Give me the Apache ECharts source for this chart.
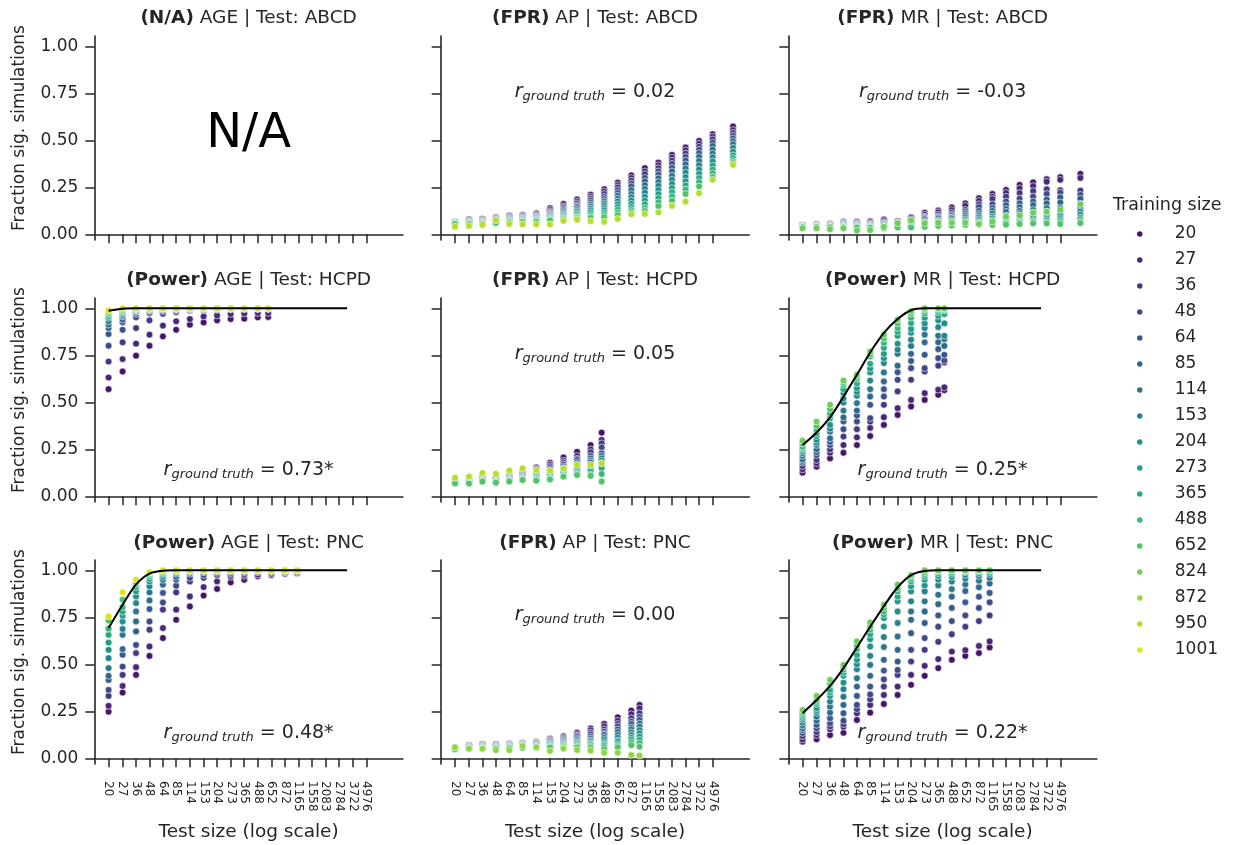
<!DOCTYPE html>
<html><head><meta charset="utf-8">
<script src="https://cdn.jsdelivr.net/npm/echarts@6/dist/echarts.min.js"></script>
<style>html,body{margin:0;padding:0;background:#fff}#c{width:1239px;height:845px}</style>
</head><body><div id="c"></div>
<script>
// ---------- data ----------
const testSizes = [20,27,36,48,64,85,114,153,204,273,365,488,652,872,1165,1558,2083,2784,3722,4976];
const trainSizes = [20,27,36,48,64,85,114,153,204,273,365,488,652,824,872,950,1001];
const yTicks = [0,0.25,0.5,0.75,1];

const xApAbcd = [20,27,36,48,64,85,114,153,204,273,365,488,652,872,1165,1558,2083,2784,3722,4976,7690];
const xMrAbcd = [20,27,36,48,64,85,114,153,204,273,365,488,652,872,1165,1558,2083,2784,3722,4976,7650];
const xAgeHcpd = [20,27,36,48,64,85,114,153,204,273,365,488,610];
const xApHcpd = [20,27,36,48,64,85,114,153,204,273,365,462];
const xMrHcpd = [20,27,36,48,64,85,114,153,204,273,365,416];
const xAgePnc = [20,27,36,48,64,85,114,153,204,273,365,488,652,872,1130];
const xApPnc = [20,27,36,48,64,85,114,153,204,273,365,488,652,872,1040];
const xMrPnc = [20,27,36,48,64,85,114,153,204,273,365,488,652,872,1097];
const powerX = [20,27,36,48,64,85,114,153,204,273,365,488,652,872,1165,1558,2083,2784,3300];

const trainApAbcd = [20,27,36,48,64,85,114,153,204,273,365,488,652,950];
const trainMrAbcd = [20,27,36,48,64,85,114,153,204,273,365,488,652,824];
const trainAgeHcpd = [20,27,36,48,64,85,114,153,204,273,365,488,652,1001];
const trainApHcpd = [20,27,36,48,64,85,114,153,204,273,365,488,652,950];
const trainMrHcpd = [20,27,36,48,64,85,114,153,204,273,365,488,652,824];
const trainAgePnc = [20,27,36,48,64,85,114,153,204,273,365,488,652,1001];
const trainApPnc = [20,27,36,48,64,85,114,153,204,273,365,488,652,872];
const trainMrPnc = [20,27,36,48,64,85,114,153,204,273,365,488,652,824];

const apAbcd = [
 [.067,.080,.082,.090,.099,.104,.112,.139,.162,.186,.211,.240,.275,.314,.352,.382,.423,.462,.497,.533,.574],
 [.065,.075,.078,.085,.095,.100,.105,.130,.150,.175,.200,.228,.262,.300,.335,.368,.408,.447,.482,.520,.555],
 [.064,.072,.075,.083,.090,.095,.100,.122,.143,.165,.190,.215,.250,.285,.320,.352,.392,.430,.466,.505,.540],
 [.063,.070,.072,.080,.087,.090,.095,.115,.135,.155,.180,.200,.235,.270,.300,.335,.375,.412,.450,.487,.525],
 [.062,.068,.070,.078,.085,.088,.092,.110,.128,.148,.168,.188,.220,.255,.282,.318,.355,.393,.432,.470,.510],
 [.061,.066,.068,.075,.082,.085,.088,.105,.120,.140,.158,.176,.205,.235,.262,.298,.335,.372,.412,.450,.495],
 [.060,.064,.066,.072,.079,.082,.085,.100,.113,.130,.148,.165,.190,.215,.242,.278,.312,.350,.390,.430,.480],
 [.060,.062,.064,.070,.076,.079,.082,.095,.106,.122,.138,.153,.175,.198,.222,.258,.290,.328,.368,.410,.460],
 [.059,.060,.062,.068,.073,.076,.079,.090,.100,.113,.128,.140,.160,.180,.200,.236,.268,.305,.345,.388,.440],
 [.058,.059,.060,.066,.070,.073,.076,.086,.094,.105,.117,.128,.145,.162,.180,.214,.246,.282,.322,.365,.420],
 [.057,.058,.059,.064,.068,.070,.073,.082,.088,.097,.106,.115,.130,.145,.160,.192,.224,.260,.300,.345,.405],
 [.056,.057,.058,.062,.066,.068,.070,.078,.083,.090,.096,.103,.116,.130,.140,.170,.202,.238,.278,.325,.390],
 [.055,.056,.057,.060,.064,.066,.067,.074,.079,.085,.088,.092,.103,.118,.125,.150,.180,.215,.255,.305,.380],
 [.041,.045,.050,.075,.055,.053,.053,.053,.072,.078,.070,.067,.082,.107,.108,.117,.152,.174,.219,.290,.370]
];
const mrAbcd = [
 [.050,.055,.055,.067,.067,.070,.080,.070,.092,.115,.127,.143,.165,.192,.215,.236,.263,.277,.293,.304,.321],
 [.049,.053,.053,.065,.063,.066,.075,.067,.088,.105,.118,.130,.152,.178,.200,.220,.245,.257,.280,.290,.300],
 [.048,.052,.050,.060,.058,.060,.065,.063,.080,.095,.105,.115,.130,.160,.188,.200,.220,.230,.240,.235,.233],
 [.047,.050,.048,.058,.055,.055,.060,.060,.075,.090,.095,.105,.120,.145,.160,.175,.190,.201,.215,.222,.210],
 [.046,.048,.046,.055,.052,.052,.058,.058,.070,.085,.090,.098,.110,.125,.140,.155,.165,.175,.185,.197,.190],
 [.045,.046,.045,.053,.050,.050,.055,.055,.065,.080,.085,.090,.100,.110,.125,.135,.145,.156,.165,.170,.162],
 [.044,.045,.044,.050,.048,.048,.052,.052,.060,.070,.075,.085,.090,.100,.110,.120,.125,.130,.140,.140,.140],
 [.043,.044,.043,.048,.046,.046,.050,.050,.055,.065,.070,.075,.080,.090,.095,.100,.110,.115,.120,.115,.120],
 [.042,.043,.042,.046,.044,.044,.046,.048,.050,.060,.065,.068,.072,.080,.085,.090,.094,.100,.100,.100,.105],
 [.041,.042,.041,.044,.042,.042,.042,.045,.048,.055,.060,.062,.065,.070,.075,.080,.080,.085,.085,.085,.090],
 [.040,.041,.040,.042,.040,.040,.040,.043,.045,.050,.055,.058,.060,.063,.065,.068,.070,.072,.075,.075,.080],
 [.040,.040,.039,.040,.038,.038,.037,.040,.040,.045,.050,.052,.055,.058,.058,.060,.062,.065,.065,.065,.068],
 [.039,.039,.038,.038,.036,.035,.033,.037,.037,.040,.045,.047,.050,.052,.050,.052,.055,.058,.058,.055,.060],
 [.032,.032,.027,.032,.020,.023,.040,.059,.073,.059,.062,.062,.062,.055,.067,.094,.100,.115,.121,.130,.160]
];
const ageHcpd = [
 [.570,.664,.748,.801,.851,.886,.913,.925,.936,.943,.945,.952,.954],
 [.632,.730,.812,.860,.908,.931,.943,.957,.962,.970,.973,.975,.975],
 [.717,.819,.895,.936,.971,.980,.988,.990,.992,.994,.995,.996,.996],
 [.801,.886,.952,.975,.985,.990,.993,.995,.996,.997,.998,.998,.998],
 [.863,.926,.970,.985,.992,.995,.997,.998,.999,.999,1,1,1],
 [.895,.940,.980,.990,.995,.997,.998,.999,1,1,1,1,1],
 [.913,.957,.985,.993,.997,.998,.999,1,1,1,1,1,1],
 [.931,.965,.990,.995,.998,.999,1,1,1,1,1,1,1],
 [.949,.975,.992,.997,.999,1,1,1,1,1,1,1,1],
 [.957,.980,.994,.998,.999,1,1,1,1,1,1,1,1],
 [.966,.985,.996,.999,1,1,1,1,1,1,1,1,1],
 [.975,.990,.997,.999,1,1,1,1,1,1,1,1,1],
 [.980,.995,.998,1,1,1,1,1,1,1,1,1,1],
 [.989,1,1,1,1,1,1,1,1,1,1,1,1]
];
const apHcpd = [
 [.085,.090,.100,.098,.110,.125,.154,.179,.207,.237,.273,.339],
 [.083,.088,.097,.095,.105,.120,.148,.170,.190,.215,.250,.300],
 [.080,.085,.094,.092,.102,.115,.140,.160,.180,.200,.235,.282],
 [.078,.083,.090,.090,.100,.110,.130,.150,.170,.193,.215,.260],
 [.077,.081,.088,.088,.098,.108,.125,.140,.160,.180,.202,.229],
 [.075,.080,.086,.085,.095,.105,.118,.132,.150,.170,.190,.215],
 [.074,.078,.084,.083,.092,.100,.110,.126,.140,.160,.180,.202],
 [.073,.076,.082,.080,.090,.097,.105,.120,.130,.150,.167,.190],
 [.072,.074,.080,.078,.088,.095,.100,.110,.126,.137,.155,.176],
 [.071,.072,.079,.076,.085,.092,.095,.100,.115,.128,.144,.165],
 [.070,.070,.078,.075,.082,.090,.090,.095,.110,.120,.130,.149],
 [.069,.069,.078,.074,.080,.088,.087,.090,.105,.114,.115,.119],
 [.069,.069,.079,.073,.079,.087,.083,.090,.105,.114,.109,.079],
 [.099,.105,.124,.120,.137,.149,.140,.137,.149,.167,.167,.176]
];
const mrHcpd = [
 [.126,.158,.202,.232,.273,.321,.380,.433,.478,.513,.540,.565],
 [.143,.176,.232,.273,.314,.364,.421,.469,.513,.549,.567,.580],
 [.161,.193,.250,.318,.357,.398,.487,.558,.620,.664,.695,.712],
 [.179,.220,.273,.357,.398,.416,.531,.620,.682,.682,.735,.723],
 [.188,.235,.290,.398,.430,.487,.570,.660,.720,.753,.783,.753],
 [.197,.250,.309,.420,.456,.531,.611,.695,.758,.819,.820,.800],
 [.215,.273,.344,.456,.496,.570,.659,.758,.800,.860,.854,.836],
 [.229,.285,.360,.499,.535,.616,.709,.780,.833,.895,.900,.854],
 [.240,.300,.380,.520,.555,.659,.735,.812,.870,.920,.936,.920],
 [.250,.321,.416,.549,.576,.680,.758,.854,.890,.950,.960,.970],
 [.257,.335,.430,.570,.600,.705,.790,.875,.922,.972,.979,.988],
 [.264,.353,.442,.593,.624,.744,.816,.895,.950,.985,.990,.995],
 [.280,.375,.465,.605,.635,.757,.840,.920,.972,.995,.998,1.0],
 [.296,.398,.487,.616,.647,.771,.860,.940,.985,1.0,1.0,1.0]
];
const agePnc = [
 [.248,.350,.444,.545,.640,.737,.808,.866,.901,.936,.950,.968,.975,.982,.985],
 [.279,.385,.485,.595,.693,.791,.861,.911,.941,.965,.970,.977,.982,.988,.990],
 [.332,.444,.560,.684,.791,.883,.941,.960,.975,.975,.980,.989,.990,.990,.995],
 [.364,.488,.603,.728,.829,.918,.960,.975,.986,.985,.990,.995,.995,.995,1],
 [.417,.551,.675,.794,.880,.950,.982,.989,.993,.993,.995,1,1,1,1],
 [.439,.581,.728,.840,.924,.965,.990,.995,.997,.997,1,1,1,1,1],
 [.480,.657,.781,.883,.950,.982,.995,.998,1,1,1,1,1,1,1],
 [.533,.688,.826,.915,.965,.990,.997,1,1,1,1,1,1,1,1],
 [.577,.728,.861,.941,.977,.995,1,1,1,1,1,1,1,1,1],
 [.616,.758,.888,.955,.985,.997,1,1,1,1,1,1,1,1,1],
 [.657,.780,.911,.968,.990,1,1,1,1,1,1,1,1,1,1],
 [.690,.805,.925,.978,.995,1,1,1,1,1,1,1,1,1,1],
 [.733,.844,.936,.985,1,1,1,1,1,1,1,1,1,1,1],
 [.755,.883,.950,.989,1,1,1,1,1,1,1,1,1,1,1]
];
const apPnc = [
 [.054,.070,.075,.075,.078,.082,.088,.105,.118,.137,.160,.183,.218,.254,.284],
 [.053,.068,.073,.073,.076,.080,.085,.100,.112,.128,.150,.170,.200,.235,.266],
 [.052,.066,.071,.071,.074,.078,.082,.095,.106,.120,.137,.154,.183,.213,.240],
 [.052,.064,.069,.069,.072,.076,.079,.090,.100,.115,.128,.142,.170,.195,.220],
 [.051,.062,.067,.067,.070,.074,.076,.086,.095,.105,.115,.130,.154,.183,.204],
 [.051,.060,.065,.065,.068,.072,.073,.082,.088,.098,.105,.124,.140,.165,.185],
 [.050,.058,.063,.063,.066,.070,.070,.078,.084,.090,.095,.110,.124,.154,.169],
 [.050,.056,.061,.061,.064,.068,.067,.074,.078,.084,.088,.098,.110,.138,.150],
 [.049,.055,.059,.059,.062,.066,.064,.070,.074,.078,.080,.085,.095,.124,.133],
 [.049,.054,.057,.057,.060,.063,.062,.066,.070,.072,.075,.075,.088,.110,.115],
 [.048,.053,.055,.055,.058,.060,.060,.062,.066,.066,.070,.070,.075,.098,.098],
 [.048,.052,.054,.054,.056,.058,.058,.060,.062,.062,.062,.060,.065,.084,.080],
 [.048,.052,.053,.052,.054,.056,.058,.058,.058,.058,.055,.048,.059,.070,.062],
 [.059,.051,.051,.044,.044,.066,.059,.039,.052,.044,.041,.030,.030,.018,.015]
];
const mrPnc = [
 [.089,.101,.124,.136,.204,.243,.289,.337,.391,.439,.480,.524,.545,.560,.590],
 [.100,.124,.155,.168,.240,.284,.337,.382,.444,.492,.528,.568,.575,.598,.622],
 [.118,.140,.170,.182,.262,.314,.382,.444,.515,.577,.620,.660,.700,.730,.760],
 [.135,.160,.187,.200,.284,.340,.420,.470,.577,.640,.700,.730,.760,.800,.830],
 [.150,.178,.213,.240,.332,.382,.467,.515,.666,.720,.760,.800,.830,.860,.880],
 [.160,.200,.243,.284,.382,.439,.524,.577,.737,.781,.820,.860,.890,.910,.930],
 [.175,.222,.275,.328,.426,.497,.592,.648,.781,.835,.870,.900,.925,.945,.960],
 [.190,.243,.302,.368,.474,.545,.645,.720,.835,.888,.920,.940,.955,.970,.980],
 [.205,.255,.332,.403,.500,.595,.701,.781,.888,.920,.950,.965,.975,.985,.990],
 [.215,.267,.350,.439,.524,.634,.746,.835,.915,.950,.970,.980,.990,.995,1],
 [.225,.289,.364,.455,.550,.660,.765,.860,.941,.968,.985,.990,.995,1,1],
 [.235,.300,.391,.471,.581,.684,.781,.888,.955,.980,.995,1,1,1,1],
 [.245,.311,.400,.485,.600,.700,.800,.905,.968,.990,1,1,1,1,1],
 [.257,.332,.417,.497,.622,.723,.817,.924,.975,1,1,1,1,1,1]
];
const ageHcpdPower = [.987,.998,1,1,1,1,1,1,1,1,1,1,1,1,1,1,1,1,1];
const mrHcpdPower = [.273,.340,.420,.530,.647,.765,.869,.943,.990,1,1,1,1,1,1,1,1,1,1];
const agePncPower = [.693,.817,.925,.983,.998,1,1,1,1,1,1,1,1,1,1,1,1,1,1];
const mrPncPower = [.240,.310,.385,.480,.590,.700,.810,.910,.975,.997,1,1,1,1,1,1,1,1,1];

// ---------- styling / layout ----------
const FONT = 'DejaVu Sans';
const INK = '#262626';
const GL = [94.3, 440.7, 788.3], GT = [36, 298, 560], GW = 308.6, GH = 204;
const XMIN = 14.73, XMAX = 10900, YMIN = -0.03, YMAX = 1.055;

const VIR = ['#440154','#471365','#482475','#463480','#414487','#3b528b','#355f8d','#2f6c8e','#2a788e','#25848e','#21918c','#1e9c89','#22a884','#2fb47c','#44bf70','#5ec962','#7ad151','#9bd93c','#bddf26','#dfe318','#fde725'];
function hex2rgb(h){return [parseInt(h.slice(1,3),16),parseInt(h.slice(3,5),16),parseInt(h.slice(5,7),16)];}
function viridis(t){
  const p = t*20, i = Math.min(19, Math.floor(p)), f = p - i;
  const a = hex2rgb(VIR[i]), b = hex2rgb(VIR[i+1]);
  return 'rgb(' + a.map((v,k)=>Math.round(v + (b[k]-v)*f)).join(',') + ')';
}
const trainColor = {};
trainSizes.forEach((s,k)=>{ trainColor[s] = viridis((k+1)/18); });

const panels = [
  {title:['(N/A)',' AGE | Test: ABCD'], na:true},
  {title:['(FPR)',' AP | Test: ABCD'], x:xApAbcd, train:trainApAbcd, vals:apAbcd, r:'0.02', ry:92},
  {title:['(FPR)',' MR | Test: ABCD'], x:xMrAbcd, train:trainMrAbcd, vals:mrAbcd, r:'-0.03', ry:92},
  {title:['(Power)',' AGE | Test: HCPD'], x:xAgeHcpd, train:trainAgeHcpd, vals:ageHcpd, r:'0.73*', ry:470, power:ageHcpdPower},
  {title:['(FPR)',' AP | Test: HCPD'], x:xApHcpd, train:trainApHcpd, vals:apHcpd, r:'0.05', ry:354},
  {title:['(Power)',' MR | Test: HCPD'], x:xMrHcpd, train:trainMrHcpd, vals:mrHcpd, r:'0.25*', ry:470, power:mrHcpdPower},
  {title:['(Power)',' AGE | Test: PNC'], x:xAgePnc, train:trainAgePnc, vals:agePnc, r:'0.48*', ry:733, power:agePncPower},
  {title:['(FPR)',' AP | Test: PNC'], x:xApPnc, train:trainApPnc, vals:apPnc, r:'0.00', ry:615},
  {title:['(Power)',' MR | Test: PNC'], x:xMrPnc, train:trainMrPnc, vals:mrPnc, r:'0.22*', ry:733, power:mrPncPower}
];

const grids = [], xAxes = [], yAxes = [], series = [], graphics = [];

// legend placeholder series (so every training size gets a legend entry)
trainSizes.forEach(s=>{
  series.push({type:'scatter', name:String(s), xAxisIndex:0, yAxisIndex:0, data:[],
    itemStyle:{color:trainColor[s], opacity:1}});
});

panels.forEach((p,i)=>{
  const r = Math.floor(i/3), c = i%3;
  grids.push({left:GL[c], top:GT[r], width:GW, height:GH, containLabel:false});
  xAxes.push({
    type:'log', logBase:10, gridIndex:i, min:XMIN, max:XMAX,
    axisLine:{show:true, lineStyle:{color:INK, width:1.6}},
    axisTick:{show:true, length:9, lineStyle:{color:INK, width:1.5}, customValues:testSizes},
    axisLabel:{show:r===2, customValues:testSizes, rotate:-90, margin:17, fontSize:12, fontFamily:FONT, color:INK,
      formatter:v=>String(Math.round(v))},
    splitLine:{show:false}, minorTick:{show:false}
  });
  yAxes.push({
    type:'value', gridIndex:i, min:YMIN, max:YMAX,
    axisLine:{show:true, lineStyle:{color:INK, width:1.6}},
    axisTick:{show:true, length:9, lineStyle:{color:INK, width:1.5}, customValues:yTicks},
    axisLabel:{show:c===0, customValues:yTicks, margin:16, fontSize:17, fontFamily:FONT, color:INK,
      formatter:v=>v.toFixed(2)},
    splitLine:{show:false}
  });
  const cx = GL[c] + GW/2;
  graphics.push({type:'text', x:cx, y:18 + 262.5*r, z:100, style:{
    text:'{b|' + p.title[0] + '}' + p.title[1],
    rich:{b:{fontWeight:'bold', fontSize:18.5, fontFamily:FONT, fill:INK}},
    fontSize:18.5, fontFamily:FONT, fill:INK, align:'center', verticalAlign:'middle'}});
  if (p.na) {
    graphics.push({type:'text', x:cx, y:135, z:100, style:{text:'N/A', fontSize:48, fontFamily:FONT, fill:'#000',
      align:'center', verticalAlign:'middle'}});
    return;
  }
  p.train.forEach((t,k)=>{
    series.push({
      type:'scatter', name:String(t), xAxisIndex:i, yAxisIndex:i,
      data:p.x.map((xv,j)=>[xv, p.vals[k][j]]),
      symbol:'circle', symbolSize:6.8, silent:true, z:2,
      itemStyle:{color:trainColor[t], borderColor:'#ffffff', borderWidth:0.6, opacity:1}
    });
  });
  if (p.power) {
    series.push({
      type:'line', xAxisIndex:i, yAxisIndex:i, data:powerX.map((xv,j)=>[xv, p.power[j]]),
      showSymbol:false, smooth:0.3, silent:true, z:5,
      lineStyle:{color:'#000', width:2}
    });
  }
  graphics.push({type:'text', x:cx, y:p.ry, z:100, style:{
    text:'{r|r}{s|ground truth}{n| = ' + p.r + '}',
    rich:{
      r:{fontFamily:FONT, fontStyle:'italic', fontSize:19, fill:INK},
      s:{fontFamily:FONT, fontStyle:'italic', fontSize:13, fill:INK, padding:[10,0,0,0]},
      n:{fontFamily:FONT, fontSize:19, fill:INK}
    },
    align:'center', verticalAlign:'middle'}});
});

// axis titles
[0,1,2].forEach(r=>{
  graphics.push({type:'text', x:20, y:128 + 262*r, rotation:Math.PI/2, z:100, style:{
    text:'Fraction sig. simulations', fontSize:17, fontFamily:FONT, fill:INK, align:'center', verticalAlign:'middle'}});
});
[0,1,2].forEach(c=>{
  graphics.push({type:'text', x:GL[c] + GW/2, y:832, z:100, style:{
    text:'Test size (log scale)', fontSize:18.5, fontFamily:FONT, fill:INK, align:'center', verticalAlign:'middle'}});
});
graphics.push({type:'text', x:1113, y:205, z:100, style:{
  text:'Training size', fontSize:17.5, fontFamily:FONT, fill:INK, align:'left', verticalAlign:'middle'}});

const chart = echarts.init(document.getElementById('c'), null, {renderer:'canvas', width:1239, height:845});
chart.setOption({
  animation:false,
  backgroundColor:'#ffffff',
  grid:grids, xAxis:xAxes, yAxis:yAxes, series:series, graphic:graphics,
  legend:{
    orient:'vertical', left:1132, top:219, itemWidth:26, itemHeight:5.5, itemGap:6, icon:'circle',
    selectedMode:false, data:trainSizes.map(String),
    itemStyle:{borderWidth:0, opacity:1},
    textStyle:{fontSize:17, fontFamily:FONT, color:INK, lineHeight:20, padding:[0,0,0,17]}
  }
});
</script></body></html>
